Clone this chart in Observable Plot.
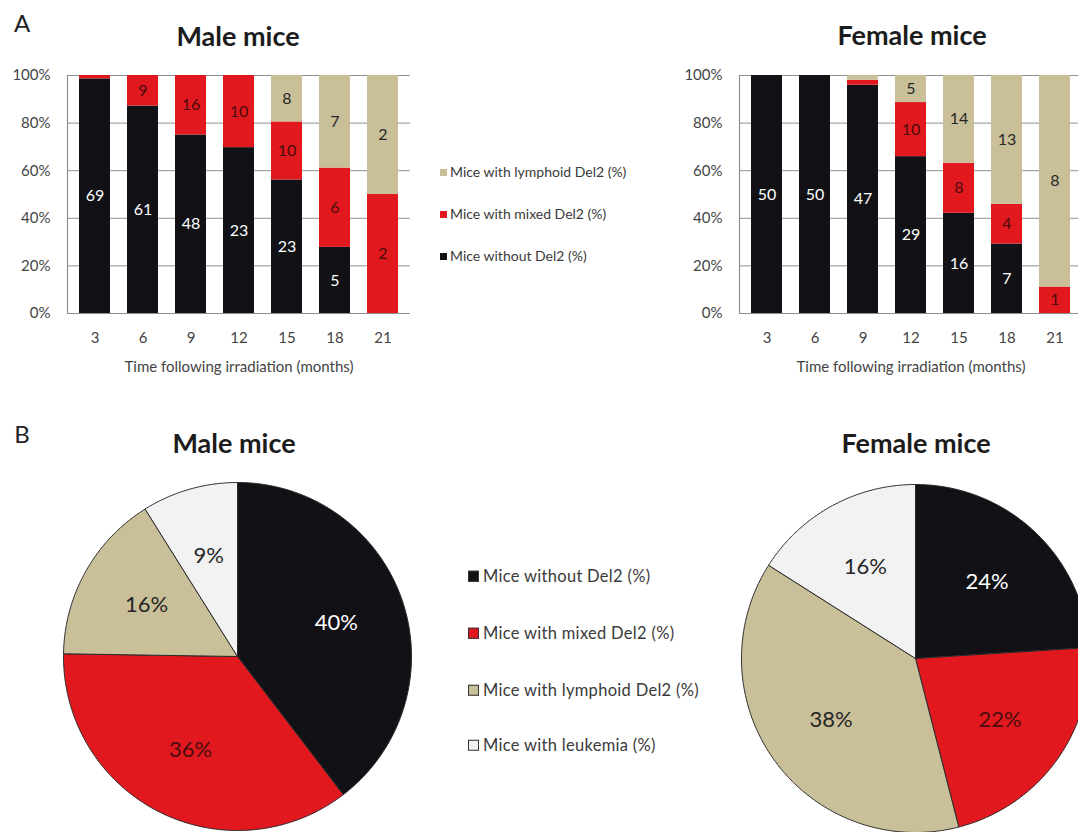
<!DOCTYPE html>
<html><head><meta charset="utf-8">
<script src="https://cdn.jsdelivr.net/npm/d3@7"></script>
<script src="https://cdn.jsdelivr.net/npm/@observablehq/plot@0.6"></script>
<style>
html,body{margin:0;padding:0;background:#fff;overflow:hidden;width:1078px;height:832px;}
body{position:relative;font-family:Lato,"Open Sans",sans-serif;color:#222;}
.abs{position:absolute;}
.abs svg{max-width:none !important;display:block;}
.title{font-weight:700;font-size:27px;color:#1c1c1c;transform:translate(-50%,-50%);white-space:nowrap;line-height:1;}
.panel{font-size:24px;color:#222;transform:translate(-50%,-50%);line-height:1;}
.leg{display:flex;align-items:center;white-space:nowrap;transform:translateY(-50%);line-height:1;}
.legA{font-size:14px;color:#3a3a3a;}
.legB{font-size:16.5px;color:#3a3a3a;letter-spacing:0.3px;}
.swA{display:inline-block;width:7px;height:7px;margin-right:3px;}
.swB{display:inline-block;width:9px;height:9px;margin-right:4px;border:1px solid #333;}
</style></head><body>
<script>
// ---------- DATA ----------
const months = [3, 6, 9, 12, 15, 18, 21];
const barCats = ["without", "mixed", "lymphoid"];
const barCatLabels = ["Mice without Del2 (%)", "Mice with mixed Del2 (%)", "Mice with lymphoid Del2 (%)"];
// counts per time point (stacked & normalised to 100%)
const maleWithout  = [69, 61, 48, 23, 23, 5, 0];
const maleMixed    = [1, 9, 16, 10, 10, 6, 2];
const maleLymphoid = [0, 0, 0, 0, 8, 7, 2];
const femaleWithout  = [50, 50, 47, 29, 16, 7, 0];
const femaleMixed    = [0, 0, 1, 10, 8, 4, 1];
const femaleLymphoid = [0, 0, 1, 5, 14, 13, 8];
const yTicks = [0, 0.2, 0.4, 0.6, 0.8, 1];

const pieCats = ["without", "mixed", "lymphoid", "leukemia"];
const pieCatLabels = ["Mice without Del2 (%)", "Mice with mixed Del2 (%)", "Mice with lymphoid Del2 (%)", "Mice with leukemia (%)"];
const malePie = [40, 36, 16, 9];
const femalePie = [24, 22, 38, 16];

// ---------- STYLE ----------
const catColors = {without: "#111116", mixed: "#e1191f", lymphoid: "#c9c09a", leukemia: "#f2f2f2"};
const labelColors = {without: "#ffffff", mixed: "#4a0c0c", lymphoid: "#262626", leukemia: "#262626"};
const gridColor = "#8f8f8f";
const FONT = "Lato, 'Open Sans', sans-serif";

function place(node, left, top, w) {
  const d = document.createElement("div");
  d.className = "abs";
  d.style.left = left + "px";
  d.style.top = top + "px";
  d.style.width = w + "px";
  d.appendChild(node);
  document.body.appendChild(d);
  return d;
}
function textDiv(cls, txt, x, y) {
  const d = document.createElement("div");
  d.className = "abs " + cls;
  d.style.left = x + "px";
  d.style.top = y + "px";
  d.textContent = txt;
  document.body.appendChild(d);
}

function barChart(without, mixed, lymph) {
  const series = [without, mixed, lymph];
  const rows = [];
  months.forEach((m, i) => {
    const total = without[i] + mixed[i] + lymph[i];
    barCats.forEach((c, j) => rows.push({month: m, cat: c, count: series[j][i], total}));
  });
  const stack = o => Plot.stackY({offset: "normalize", x: "month", y: "count", ...o});
  const labelFor = cat => d => (d.cat === cat && d.count / d.total >= 0.05) ? String(d.count) : null;
  return Plot.plot({
    width: 420, height: 318,
    marginLeft: 67, marginRight: 10, marginTop: 15, marginBottom: 65,
    style: {fontFamily: FONT, fontSize: "15px", color: "#444", background: "transparent"},
    x: {type: "band", domain: months, paddingInner: 0.35, paddingOuter: 0.18,
        label: "Time following irradiation (months)", labelAnchor: "center", labelOffset: 58,
        tickSize: 0, tickPadding: 19},
    y: {domain: [0, 1], ticks: yTicks, tickFormat: d => Math.round(d * 100) + "%",
        label: null, tickSize: 0, tickPadding: 17},
    color: {domain: barCats, range: barCats.map(c => catColors[c])},
    marks: [
      Plot.gridY(yTicks, {stroke: gridColor, strokeOpacity: 1, strokeWidth: 1}),
      Plot.barY(rows, stack({fill: "cat"})),
      Plot.ruleY([0], {stroke: gridColor, strokeWidth: 1.2}),
      Plot.frame({anchor: "left", stroke: gridColor, strokeWidth: 1.2}),
      ...barCats.map(c => Plot.text(rows, stack({text: labelFor(c), fill: labelColors[c], fontSize: 16, fontFamily: FONT})))
    ]
  });
}

function pieChart(values) {
  const arcs = d3.pie().sort(null)(values);
  const pts = [];
  arcs.forEach((a, i) => {
    const cat = pieCats[i];
    pts.push({cat, x: 0, y: 0});
    const n = Math.max(2, Math.ceil((a.endAngle - a.startAngle) / 0.01));
    for (let k = 0; k <= n; k++) {
      const t = a.startAngle + (a.endAngle - a.startAngle) * k / n;
      pts.push({cat, x: Math.sin(t), y: Math.cos(t)});
    }
    pts.push({cat, x: 0, y: 0});
  });
  const labels = arcs.map((a, i) => {
    const t = (a.startAngle + a.endAngle) / 2;
    return {cat: pieCats[i], x: 0.6 * Math.sin(t), y: 0.6 * Math.cos(t), text: values[i] + "%"};
  });
  return Plot.plot({
    width: 360, height: 360, margin: 6,
    style: {background: "transparent"},
    x: {domain: [-1, 1], axis: null},
    y: {domain: [-1, 1], axis: null},
    color: {domain: pieCats, range: pieCats.map(c => catColors[c])},
    marks: [
      Plot.line(pts, {x: "x", y: "y", z: "cat", fill: "cat", stroke: "#2a2a2a", strokeWidth: 1, strokeLinejoin: "round"}),
      ...pieCats.map(c => Plot.text(labels.filter(d => d.cat === c),
        {x: "x", y: "y", text: "text", fill: labelColors[c], fontSize: 22, fontFamily: FONT}))
    ]
  });
}

// ---------- LAYOUT ----------
textDiv("panel", "A", 22, 23);
textDiv("panel", "B", 22, 434);
textDiv("title", "Male mice", 238, 35);
textDiv("title", "Female mice", 912, 34);
textDiv("title", "Male mice", 234, 442);
textDiv("title", "Female mice", 916, 442);

place(barChart(maleWithout, maleMixed, maleLymphoid), 0, 60, 420);
place(barChart(femaleWithout, femaleMixed, femaleLymphoid), 672, 60, 420);

// legend A (reverse order, lymphoid on top)
const legAy = [172, 214, 256];
[2, 1, 0].forEach((j, k) => {
  const d = document.createElement("div");
  d.className = "abs leg legA";
  d.style.left = "440px"; d.style.top = legAy[k] + "px";
  const s = document.createElement("span"); s.className = "swA"; s.style.background = catColors[barCats[j]];
  d.appendChild(s); d.appendChild(document.createTextNode(barCatLabels[j]));
  document.body.appendChild(d);
});

place(pieChart(malePie), 57, 476, 360);
place(pieChart(femalePie), 735, 478, 360);

const legBy = [576, 633, 690, 745];
pieCats.forEach((c, k) => {
  const d = document.createElement("div");
  d.className = "abs leg legB";
  d.style.left = "468px"; d.style.top = legBy[k] + "px";
  const s = document.createElement("span"); s.className = "swB"; s.style.background = catColors[c];
  d.appendChild(s); d.appendChild(document.createTextNode(pieCatLabels[k]));
  document.body.appendChild(d);
});
</script>
</body></html>
